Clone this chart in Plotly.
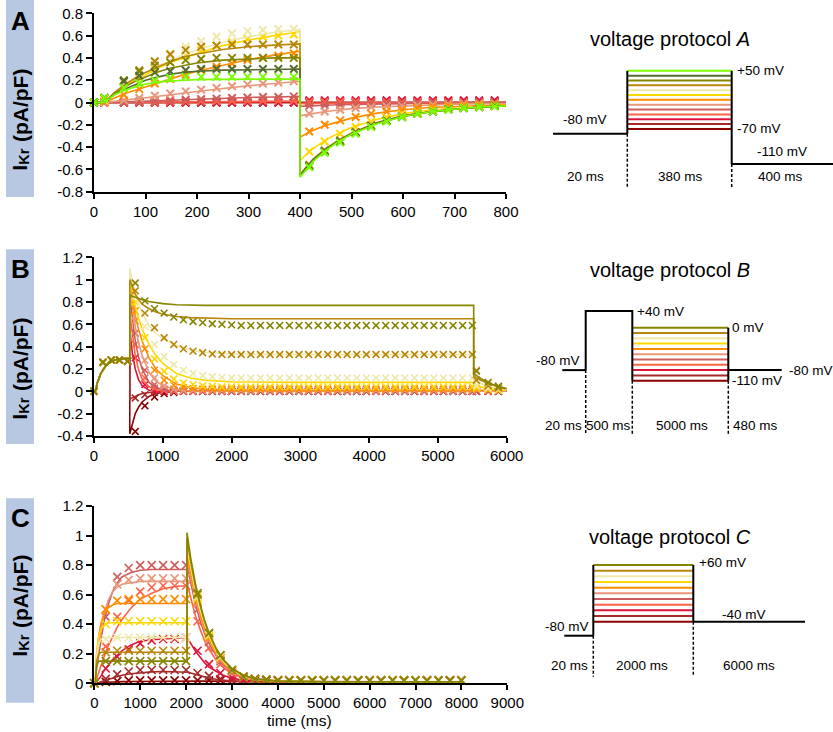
import plotly.graph_objects as go

W, H = 833, 732
FONT = "Liberation Sans, Arial, Helvetica, sans-serif"


def px(x):
    return x / W


def py(y):
    return 1 - y / H


# ---------------- palette (highest step voltage first) ----------------
PALETTE = ["#7cfc00", "#556b2f", "#858500", "#b8860b", "#eee8aa", "#ffd700",
           "#ff8c00", "#e9967a", "#cd5c5c", "#ff6347", "#dc143c", "#a52a2a", "#8b0000"]

# ---------------- Panel A : protocol A ----------------
A_VOLTS = ["+50", "+40", "+30", "+20", "+10", "0", "-10", "-20", "-30", "-40", "-50", "-60", "-70"]
A_FIT_T = [0, 20, 40, 60, 80, 100, 125, 150, 175, 200, 250, 300, 350, 400,
           400, 410, 425, 450, 475, 500, 550, 600, 650, 700, 750, 800]
A_FIT_P50 = [0, 0, 0.07, 0.11, 0.14, 0.165, 0.185, 0.195, 0.2, 0.205, 0.21, 0.21, 0.21, 0.21,
             -0.67, -0.61, -0.53, -0.43, -0.35, -0.285, -0.19, -0.125, -0.085, -0.06, -0.04, -0.03]
A_FIT_P40 = [0, 0, 0.07, 0.12, 0.16, 0.2, 0.23, 0.255, 0.27, 0.28, 0.29, 0.295, 0.3, 0.3,
             -0.66, -0.6, -0.52, -0.42, -0.345, -0.28, -0.185, -0.125, -0.085, -0.06, -0.04, -0.03]
A_FIT_P30 = [0, 0, 0.08, 0.14, 0.19, 0.23, 0.275, 0.31, 0.335, 0.355, 0.38, 0.39, 0.4, 0.4,
             -0.655, -0.595, -0.515, -0.42, -0.34, -0.28, -0.185, -0.12, -0.085, -0.06, -0.04, -0.03]
A_FIT_P20 = [0, 0, 0.09, 0.16, 0.22, 0.27, 0.32, 0.37, 0.41, 0.435, 0.475, 0.5, 0.515, 0.525,
             -0.65, -0.59, -0.51, -0.415, -0.34, -0.275, -0.18, -0.12, -0.085, -0.06, -0.04, -0.03]
A_FIT_P10 = [0, 0, 0.09, 0.16, 0.22, 0.27, 0.33, 0.38, 0.43, 0.47, 0.54, 0.59, 0.63, 0.655,
             -0.645, -0.585, -0.51, -0.41, -0.335, -0.27, -0.18, -0.12, -0.08, -0.055, -0.04, -0.03]
A_FIT_0 = [0, 0, 0.08, 0.15, 0.2, 0.25, 0.31, 0.36, 0.4, 0.44, 0.51, 0.56, 0.6, 0.635,
           -0.52, -0.475, -0.415, -0.335, -0.275, -0.225, -0.15, -0.1, -0.07, -0.05, -0.035, -0.025]
A_FIT_M10 = [0, 0, 0.04, 0.08, 0.11, 0.14, 0.18, 0.215, 0.25, 0.28, 0.33, 0.385, 0.425, 0.46,
             -0.31, -0.285, -0.25, -0.205, -0.17, -0.14, -0.095, -0.065, -0.045, -0.035, -0.025, -0.02]
A_FIT_M20 = [0, 0, 0.01, 0.02, 0.03, 0.04, 0.055, 0.07, 0.085, 0.1, 0.125, 0.15, 0.17, 0.19,
             -0.12, -0.11, -0.1, -0.08, -0.065, -0.055, -0.04, -0.03, -0.02, -0.015, -0.01, -0.01]
A_FIT_M30 = [0, 0, 0, 0.005, 0.008, 0.01, 0.015, 0.02, 0.025, 0.03, 0.04, 0.045, 0.05, 0.055,
             -0.035, -0.032, -0.03, -0.025, -0.02, -0.017, -0.012, -0.01, -0.007, -0.005, -0.004, -0.003]
A_FIT_M40 = [0, 0, 0, 0, 0.002, 0.003, 0.004, 0.005, 0.006, 0.007, 0.009, 0.01, 0.012, 0.013,
             -0.01, -0.009, -0.008, -0.007, -0.006, -0.005, -0.004, -0.003, -0.002, -0.002, -0.001, -0.001]
A_FIT_M50 = [0, 0, 0, 0, 0, 0.001, 0.001, 0.002, 0.002, 0.002, 0.003, 0.003, 0.003, 0.004,
             -0.003, -0.003, -0.002, -0.002, -0.002, -0.001, -0.001, -0.001, -0.001, 0, 0, 0]
A_FIT_M60 = [0, 0, -0.002, -0.003, -0.003, -0.003, -0.003, -0.003, -0.003, -0.003, -0.003, -0.003, -0.003, -0.003,
             -0.001, -0.001, -0.001, -0.001, 0, 0, 0, 0, 0, 0, 0, 0]
A_FIT_M70 = [0, 0, -0.005, -0.006, -0.006, -0.006, -0.006, -0.006, -0.006, -0.006, -0.006, -0.006, -0.006, -0.006,
             0, 0, 0, 0, 0, 0, 0, 0, 0, 0, 0, 0]
A_ZERO_T = [0, 800]
A_ZERO_I = [0, 0]

A_DAT_T = [0, 20, 58, 88, 118, 148, 178, 208, 238, 268, 298, 328, 358, 388,
           418, 448, 478, 508, 538, 568, 598, 628, 658, 688, 718, 748, 778]
A_DAT_P50 = [0, 0.04, 0.13, 0.17, 0.2, 0.22, 0.23, 0.23, 0.23, 0.23, 0.23, 0.23, 0.23, 0.23,
             -0.58, -0.45, -0.36, -0.28, -0.22, -0.17, -0.13, -0.1, -0.08, -0.065, -0.05, -0.04, -0.035]
A_DAT_P40 = [0, 0.04, 0.19, 0.24, 0.27, 0.28, 0.29, 0.3, 0.3, 0.3, 0.3, 0.3, 0.3, 0.3,
             -0.57, -0.44, -0.35, -0.27, -0.21, -0.165, -0.13, -0.1, -0.08, -0.06, -0.05, -0.04, -0.03]
A_DAT_P30 = [0, 0.04, 0.2, 0.28, 0.33, 0.36, 0.38, 0.39, 0.4, 0.4, 0.4, 0.4, 0.4, 0.4,
             -0.57, -0.44, -0.35, -0.27, -0.21, -0.165, -0.13, -0.1, -0.08, -0.06, -0.05, -0.04, -0.03]
A_DAT_P20 = [0, 0.04, 0.19, 0.29, 0.37, 0.43, 0.47, 0.5, 0.51, 0.52, 0.52, 0.52, 0.52, 0.52,
             -0.56, -0.43, -0.34, -0.265, -0.205, -0.16, -0.125, -0.1, -0.08, -0.06, -0.05, -0.04, -0.03]
A_DAT_P10 = [0, 0.03, 0.17, 0.27, 0.36, 0.44, 0.5, 0.55, 0.59, 0.62, 0.64, 0.65, 0.66, 0.66,
             -0.56, -0.43, -0.34, -0.265, -0.205, -0.16, -0.125, -0.1, -0.08, -0.06, -0.05, -0.04, -0.03]
A_DAT_0 = [0, 0.02, 0.13, 0.22, 0.3, 0.36, 0.42, 0.47, 0.51, 0.54, 0.57, 0.59, 0.6, 0.61,
           -0.44, -0.35, -0.28, -0.22, -0.17, -0.135, -0.105, -0.085, -0.065, -0.05, -0.04, -0.03, -0.025]
A_DAT_M10 = [0, 0.01, 0.07, 0.12, 0.17, 0.21, 0.25, 0.29, 0.32, 0.35, 0.38, 0.4, 0.42, 0.44,
             -0.26, -0.2, -0.16, -0.13, -0.1, -0.08, -0.065, -0.05, -0.04, -0.03, -0.025, -0.02, -0.015]
A_DAT_M20 = [0, 0, 0.02, 0.04, 0.06, 0.08, 0.1, 0.115, 0.13, 0.145, 0.16, 0.17, 0.18, 0.19,
             -0.1, -0.08, -0.065, -0.05, -0.04, -0.035, -0.03, -0.025, -0.02, -0.015, -0.01, -0.01, -0.01]
A_DAT_M30 = [0, 0, 0.005, 0.01, 0.015, 0.02, 0.025, 0.03, 0.035, 0.04, 0.045, 0.05, 0.05, 0.055,
             -0.03, -0.025, -0.02, -0.015, -0.01, -0.01, -0.008, -0.006, -0.005, -0.004, -0.003, -0.002, -0.002]
A_DAT_M40 = [0, 0, 0, 0.005, 0.005, 0.008, 0.01, 0.01, 0.012, 0.013, 0.014, 0.015, 0.015, 0.016,
             0.005, 0.005, 0.004, 0.004, 0.003, 0.003, 0.002, 0.002, 0.002, 0.001, 0.001, 0.001, 0.001]
A_DAT_M50 = [0, 0, 0, 0, 0, 0, 0, 0, 0, 0, 0, 0, 0, 0,
             0.02, 0.02, 0.02, 0.02, 0.02, 0.02, 0.02, 0.02, 0.02, 0.02, 0.02, 0.02, 0.02]
A_DAT_M60 = [0, 0, 0, 0, 0, 0, 0, 0, 0, 0, 0, 0, 0, 0,
             0.01, 0.01, 0.01, 0.01, 0.01, 0.01, 0.01, 0.01, 0.01, 0.01, 0.01, 0.01, 0.01]
A_DAT_M70 = [0, 0, 0, 0, 0, 0, 0, 0, 0, 0, 0, 0, 0, 0,
             0, 0, 0, 0, 0, 0, 0, 0, 0, 0, 0, 0, 0]

# ---------------- Panel B : protocol B ----------------
B_VOLTS = ["0", "-10", "-20", "-30", "-40", "-50", "-60", "-70", "-80", "-90", "-100"]
B_FIT_T = [0, 20, 50, 100, 150, 200, 250, 300, 400, 520,
           520, 560, 600, 650, 700, 800, 900, 1000, 1200, 1400, 1600, 2000, 2500, 3000, 4000, 5520,
           5520, 5560, 5620, 5700, 5800, 5900, 6000]
B_FIT_PRE = [0, 0, 0.08, 0.16, 0.21, 0.245, 0.265, 0.28, 0.29, 0.295]
B_FIT_STEP_0 = [0.86, 0.85, 0.84, 0.83, 0.82, 0.805, 0.795, 0.785, 0.775, 0.772, 0.77, 0.77, 0.77, 0.77, 0.77, 0.77]
B_FIT_STEP_M10 = [1.0, 0.93, 0.87, 0.82, 0.78, 0.74, 0.71, 0.69, 0.67, 0.66, 0.655, 0.65, 0.65, 0.65, 0.65, 0.65]
B_FIT_STEP_M20 = [1.1, 0.97, 0.87, 0.78, 0.7, 0.59, 0.52, 0.47, 0.41, 0.37, 0.35, 0.335, 0.33, 0.33, 0.33, 0.33]
B_FIT_STEP_M30 = [1.02, 0.88, 0.76, 0.65, 0.56, 0.42, 0.32, 0.25, 0.16, 0.12, 0.1, 0.085, 0.08, 0.08, 0.08, 0.08]
B_FIT_STEP_M40 = [1.0, 0.82, 0.68, 0.55, 0.45, 0.3, 0.2, 0.14, 0.065, 0.035, 0.02, 0.012, 0.01, 0.01, 0.01, 0.01]
B_FIT_STEP_M50 = [0.95, 0.74, 0.58, 0.43, 0.32, 0.17, 0.09, 0.05, 0.015, 0.005, 0, 0, 0, 0, 0, 0]
B_FIT_STEP_M60 = [0.85, 0.62, 0.45, 0.3, 0.2, 0.08, 0.035, 0.015, 0, 0, 0, 0, 0, 0, 0, 0]
B_FIT_STEP_M70 = [0.7, 0.48, 0.32, 0.19, 0.11, 0.04, 0.015, 0.005, 0, 0, 0, 0, 0, 0, 0, 0]
B_FIT_STEP_M80 = [0.55, 0.33, 0.2, 0.1, 0.05, 0.01, 0, 0, 0, 0, 0, 0, 0, 0, 0, 0]
B_FIT_STEP_M90 = [-0.07, -0.06, -0.045, -0.03, -0.02, -0.01, -0.005, 0, 0, 0, 0, 0, 0, 0, 0, 0]
B_FIT_STEP_M100 = [-0.38, -0.28, -0.2, -0.14, -0.095, -0.045, -0.02, -0.01, 0, 0, 0, 0, 0, 0, 0, 0]
B_FIT_TAIL_0 = [0.16, 0.14, 0.115, 0.09, 0.06, 0.04, 0.025]
B_FIT_TAIL_M10 = [0.14, 0.12, 0.1, 0.08, 0.055, 0.035, 0.02]
B_FIT_TAIL_M20 = [0.1, 0.085, 0.07, 0.055, 0.04, 0.025, 0.015]
B_FIT_TAIL_M30 = [0.05, 0.045, 0.04, 0.03, 0.02, 0.015, 0.01]
B_FIT_TAIL_M40 = [0.01, 0.01, 0.01, 0.01, 0.01, 0.01, 0.01]
B_FIT_TAIL_LOW = [0, 0, 0, 0, 0, 0, 0]

B_DAT_T = [0, 130, 250, 370, 490,
           600, 740, 880, 1020, 1160, 1300, 1440, 1580, 1720, 1860, 2000, 2140, 2280, 2420, 2560, 2700,
           2840, 2980, 3120, 3260, 3400, 3540, 3680, 3820, 3960, 4100, 4240, 4380, 4520, 4660, 4800,
           4940, 5080, 5220, 5360, 5500,
           5560, 5730, 5880]
B_DAT_PRE = [0, 0.26, 0.28, 0.28, 0.27]
B_DAT_STEP_0 = [0.97, 0.81, 0.74, 0.7, 0.665, 0.64, 0.625, 0.615, 0.605, 0.6, 0.595, 0.59,
                0.59, 0.59, 0.59, 0.59, 0.59, 0.59, 0.59, 0.59, 0.59, 0.59, 0.59, 0.59,
                0.59, 0.59, 0.59, 0.59, 0.59, 0.59, 0.59, 0.59, 0.59, 0.59, 0.59, 0.59]
B_DAT_STEP_M10 = [0.9, 0.7, 0.57, 0.48, 0.42, 0.38, 0.36, 0.345, 0.335, 0.33, 0.33, 0.33,
                  0.33, 0.33, 0.33, 0.33, 0.33, 0.33, 0.33, 0.33, 0.33, 0.33, 0.33, 0.33,
                  0.33, 0.33, 0.33, 0.33, 0.33, 0.33, 0.33, 0.33, 0.33, 0.33, 0.33, 0.33]
B_DAT_STEP_M20 = [0.85, 0.58, 0.42, 0.31, 0.24, 0.19, 0.16, 0.14, 0.13, 0.125, 0.12, 0.12,
                  0.12, 0.12, 0.12, 0.12, 0.12, 0.12, 0.12, 0.12, 0.12, 0.12, 0.12, 0.12,
                  0.12, 0.12, 0.12, 0.12, 0.12, 0.12, 0.12, 0.12, 0.12, 0.12, 0.12, 0.12]
B_DAT_STEP_M30 = [0.8, 0.48, 0.29, 0.18, 0.11, 0.075, 0.06, 0.05, 0.045, 0.04, 0.04, 0.04,
                  0.04, 0.04, 0.04, 0.04, 0.04, 0.04, 0.04, 0.04, 0.04, 0.04, 0.04, 0.04,
                  0.04, 0.04, 0.04, 0.04, 0.04, 0.04, 0.04, 0.04, 0.04, 0.04, 0.04, 0.04]
B_DAT_STEP_M40 = [0.72, 0.38, 0.19, 0.1, 0.055, 0.035, 0.025, 0.02, 0.02, 0.02, 0.02, 0.02,
                  0.02, 0.02, 0.02, 0.02, 0.02, 0.02, 0.02, 0.02, 0.02, 0.02, 0.02, 0.02,
                  0.02, 0.02, 0.02, 0.02, 0.02, 0.02, 0.02, 0.02, 0.02, 0.02, 0.02, 0.02]
B_DAT_STEP_M50 = [0.63, 0.28, 0.12, 0.05, 0.02, 0.01, 0.01, 0.01, 0.01, 0.01, 0.01, 0.01,
                  0.01, 0.01, 0.01, 0.01, 0.01, 0.01, 0.01, 0.01, 0.01, 0.01, 0.01, 0.01,
                  0.01, 0.01, 0.01, 0.01, 0.01, 0.01, 0.01, 0.01, 0.01, 0.01, 0.01, 0.01]
B_DAT_STEP_M60 = [0.52, 0.19, 0.06, 0.02, 0.01, 0.005, 0, 0, 0, 0, 0, 0,
                  0, 0, 0, 0, 0, 0, 0, 0, 0, 0, 0, 0,
                  0, 0, 0, 0, 0, 0, 0, 0, 0, 0, 0, 0]
B_DAT_STEP_M70 = [0.42, 0.12, 0.03, 0.01, 0, 0, 0, 0, 0, 0, 0, 0,
                  0, 0, 0, 0, 0, 0, 0, 0, 0, 0, 0, 0,
                  0, 0, 0, 0, 0, 0, 0, 0, 0, 0, 0, 0]
B_DAT_STEP_M80 = [0.3, 0.06, 0.01, 0, 0, 0, 0, 0, 0, 0, 0, 0,
                  0, 0, 0, 0, 0, 0, 0, 0, 0, 0, 0, 0,
                  0, 0, 0, 0, 0, 0, 0, 0, 0, 0, 0, 0]
B_DAT_STEP_M90 = [-0.06, -0.03, -0.01, 0, 0, 0, 0, 0, 0, 0, 0, 0,
                  0, 0, 0, 0, 0, 0, 0, 0, 0, 0, 0, 0,
                  0, 0, 0, 0, 0, 0, 0, 0, 0, 0, 0, 0]
B_DAT_STEP_M100 = [-0.36, -0.13, -0.05, -0.02, -0.01, 0, 0, 0, 0, 0, 0, 0,
                   0, 0, 0, 0, 0, 0, 0, 0, 0, 0, 0, 0,
                   0, 0, 0, 0, 0, 0, 0, 0, 0, 0, 0, 0]
B_DAT_TAIL_0 = [0.18, 0.08, 0.045]
B_DAT_TAIL_M10 = [0.1, 0.05, 0.03]
B_DAT_TAIL_M20 = [0.05, 0.03, 0.02]
B_DAT_TAIL_M30 = [0.03, 0.02, 0.01]
B_DAT_TAIL_M40 = [0.02, 0.01, 0.01]
B_DAT_TAIL_M50 = [0.19, 0.075, 0.045]
B_DAT_TAIL_LOW = [0, 0, 0]

# ---------------- Panel C : protocol C ----------------
C_VOLTS = ["+60", "+50", "+40", "+30", "+20", "+10", "0", "-10", "-20", "-30", "-40"]
C_FIT_T = [0, 20, 50, 100, 150, 200, 300, 400, 500, 600, 800, 1000, 1250, 1500, 1750, 2020,
           2020, 2060, 2100, 2200, 2300, 2400, 2500, 2650, 2800, 3000, 3250, 3500, 4000, 5000, 6500, 8020]
C_FIT_P60 = [0, 0, 0.12, 0.15, 0.15, 0.15, 0.15, 0.15, 0.15, 0.15, 0.15, 0.15, 0.15, 0.15, 0.15, 0.15,
             1.02, 0.93, 0.85, 0.68, 0.54, 0.43, 0.34, 0.24, 0.165, 0.1, 0.055, 0.03, 0.015, 0.01, 0.01, 0.01]
C_FIT_P50 = [0, 0, 0.15, 0.2, 0.21, 0.21, 0.21, 0.21, 0.21, 0.21, 0.21, 0.21, 0.21, 0.21, 0.21, 0.21,
             0.98, 0.9, 0.82, 0.66, 0.53, 0.42, 0.335, 0.235, 0.16, 0.1, 0.055, 0.03, 0.015, 0.01, 0.01, 0.01]
C_FIT_P40 = [0, 0, 0.18, 0.27, 0.3, 0.31, 0.31, 0.31, 0.31, 0.31, 0.31, 0.31, 0.31, 0.31, 0.31, 0.31,
             0.95, 0.87, 0.8, 0.64, 0.51, 0.41, 0.325, 0.23, 0.155, 0.095, 0.05, 0.03, 0.015, 0.01, 0.01, 0.01]
C_FIT_P30 = [0, 0, 0.2, 0.32, 0.37, 0.39, 0.41, 0.41, 0.41, 0.41, 0.41, 0.41, 0.41, 0.41, 0.41, 0.41,
             0.92, 0.85, 0.78, 0.62, 0.5, 0.4, 0.315, 0.22, 0.15, 0.09, 0.05, 0.03, 0.015, 0.01, 0.01, 0.01]
C_FIT_P20 = [0, 0, 0.2, 0.33, 0.41, 0.46, 0.51, 0.53, 0.54, 0.54, 0.54, 0.54, 0.54, 0.54, 0.54, 0.54,
             0.88, 0.81, 0.75, 0.6, 0.48, 0.38, 0.3, 0.21, 0.145, 0.085, 0.048, 0.028, 0.015, 0.01, 0.01, 0.01]
C_FIT_P10 = [0, 0, 0.15, 0.28, 0.38, 0.45, 0.56, 0.62, 0.65, 0.67, 0.68, 0.69, 0.69, 0.69, 0.69, 0.69,
             0.84, 0.78, 0.72, 0.57, 0.46, 0.36, 0.29, 0.2, 0.14, 0.08, 0.045, 0.027, 0.014, 0.01, 0.01, 0.01]
C_FIT_0 = [0, 0, 0.1, 0.2, 0.3, 0.4, 0.53, 0.62, 0.68, 0.72, 0.75, 0.765, 0.77, 0.77, 0.77, 0.77,
           0.8, 0.74, 0.68, 0.54, 0.43, 0.34, 0.27, 0.19, 0.13, 0.075, 0.042, 0.025, 0.013, 0.01, 0.01, 0.01]
C_FIT_M10 = [0, 0, 0.03, 0.08, 0.13, 0.17, 0.25, 0.32, 0.38, 0.43, 0.51, 0.57, 0.61, 0.64, 0.655, 0.66,
             0.68, 0.63, 0.58, 0.46, 0.37, 0.29, 0.23, 0.16, 0.11, 0.065, 0.036, 0.022, 0.012, 0.01, 0.01, 0.01]
C_FIT_M20 = [0, 0, 0.01, 0.03, 0.05, 0.08, 0.12, 0.16, 0.19, 0.22, 0.26, 0.285, 0.295, 0.3, 0.305, 0.31,
             0.31, 0.29, 0.27, 0.22, 0.18, 0.14, 0.11, 0.08, 0.055, 0.035, 0.02, 0.014, 0.01, 0.01, 0.01, 0.01]
C_FIT_M30 = [0, 0, 0, 0.005, 0.01, 0.015, 0.025, 0.035, 0.045, 0.055, 0.065, 0.072, 0.077, 0.08, 0.08, 0.08,
             0.08, 0.075, 0.07, 0.06, 0.05, 0.04, 0.035, 0.027, 0.02, 0.015, 0.012, 0.01, 0.01, 0.01, 0.01, 0.01]
C_FIT_M40 = [0, 0, 0, 0.002, 0.004, 0.005, 0.007, 0.009, 0.01, 0.011, 0.012, 0.013, 0.014, 0.014, 0.015, 0.015,
             0.015, 0.015, 0.015, 0.015, 0.015, 0.015, 0.015, 0.014, 0.014, 0.013, 0.012, 0.011, 0.01, 0.01, 0.01, 0.01]

C_DAT_T = [0, 250, 500, 750, 1000, 1250, 1500, 1750, 2000,
           2250, 2500, 2750, 3000, 3250, 3500, 3750, 4000, 4250, 4500, 4750, 5000,
           5250, 5500, 5750, 6000, 6250, 6500, 6750, 7000, 7250, 7500, 7750, 8000]
C_DAT_TAIL_REST = [0.02, 0.02, 0.02, 0.02, 0.02, 0.02, 0.02, 0.02, 0.02,
                   0.02, 0.02, 0.02, 0.02, 0.02, 0.02, 0.02, 0.02]
C_DAT_P60 = [0, 0.15, 0.15, 0.15, 0.15, 0.15, 0.15, 0.15, 0.15, 0.61, 0.34, 0.19, 0.09, 0.045, 0.03, 0.025]
C_DAT_P50 = [0, 0.21, 0.22, 0.22, 0.22, 0.22, 0.22, 0.22, 0.22, 0.6, 0.34, 0.19, 0.09, 0.045, 0.03, 0.025]
C_DAT_P40 = [0, 0.3, 0.31, 0.31, 0.31, 0.31, 0.31, 0.31, 0.31, 0.59, 0.33, 0.18, 0.09, 0.045, 0.03, 0.025]
C_DAT_P30 = [0, 0.4, 0.42, 0.42, 0.42, 0.42, 0.42, 0.42, 0.42, 0.58, 0.32, 0.18, 0.09, 0.045, 0.03, 0.025]
C_DAT_P20 = [0, 0.5, 0.56, 0.57, 0.57, 0.57, 0.57, 0.57, 0.57, 0.56, 0.31, 0.17, 0.085, 0.045, 0.03, 0.025]
C_DAT_P10 = [0, 0.5, 0.67, 0.7, 0.71, 0.71, 0.71, 0.71, 0.71, 0.54, 0.3, 0.16, 0.08, 0.045, 0.03, 0.025]
C_DAT_0 = [0, 0.45, 0.72, 0.78, 0.8, 0.8, 0.8, 0.8, 0.8, 0.5, 0.28, 0.15, 0.075, 0.04, 0.03, 0.025]
C_DAT_M10 = [0, 0.25, 0.45, 0.56, 0.62, 0.65, 0.66, 0.66, 0.66, 0.42, 0.24, 0.13, 0.07, 0.04, 0.03, 0.025]
C_DAT_M20 = [0, 0.1, 0.18, 0.23, 0.27, 0.29, 0.3, 0.3, 0.31, 0.22, 0.13, 0.07, 0.04, 0.03, 0.025, 0.02]
C_DAT_M30 = [0, 0.03, 0.06, 0.08, 0.09, 0.09, 0.09, 0.09, 0.09, 0.07, 0.05, 0.03, 0.02, 0.02, 0.02, 0.02]
C_DAT_M40 = [0, 0.01, 0.015, 0.02, 0.02, 0.02, 0.02, 0.02, 0.02, 0.02, 0.02, 0.02, 0.02, 0.02, 0.02, 0.02]

# ---------------- voltage protocol diagrams ----------------
PROTO_A_STEPS_MV = [50, 40, 30, 20, 10, 0, -10, -20, -30, -40, -50, -60, -70]
PROTO_A_HOLD_MV = -80
PROTO_A_TAIL_MV = -110
PROTO_A_TAIL_DRAWN = -142.5      # drawn off-scale, as in the original sketch
PROTO_A_EDGES = [0, 74.3, 178.7, 280]
PROTO_A_DUR = ["20 ms", "380 ms", "400 ms"]

PROTO_B_STEPS_MV = [0, -10, -20, -30, -40, -50, -60, -70, -80, -90, -100]
PROTO_B_HOLD_MV = -80
PROTO_B_PRE_MV = 40
PROTO_B_PRE_DRAWN = 31.5
PROTO_B_EDGES = [2.3, 25.7, 72.3, 168.3, 221.7]
PROTO_B_DUR = ["20 ms", "500 ms", "5000 ms", "480 ms"]

PROTO_C_STEPS_MV = [60, 50, 40, 30, 20, 10, 0, -10, -20, -30, -40]
PROTO_C_HOLD_MV = -80
PROTO_C_HOLD_DRAWN = -64.7
PROTO_C_TAIL_MV = -40
PROTO_C_EDGES = [4.3, 33.3, 133.3, 245]
PROTO_C_DUR = ["20 ms", "2000 ms", "6000 ms"]

TICK_A_Y = [-0.8, -0.6, -0.4, -0.2, 0, 0.2, 0.4, 0.6, 0.8]
TICK_A_YT = ["-0.8", "-0.6", "-0.4", "-0.2", "0", "0.2", "0.4", "0.6", "0.8"]
TICK_A_X = [0, 100, 200, 300, 400, 500, 600, 700, 800]
TICK_B_Y = [-0.4, -0.2, 0, 0.2, 0.4, 0.6, 0.8, 1, 1.2]
TICK_B_YT = ["-0.4", "-0.2", "0", "0.2", "0.4", "0.6", "0.8", "1", "1.2"]
TICK_B_X = [0, 1000, 2000, 3000, 4000, 5000, 6000]
TICK_C_Y = [0, 0.2, 0.4, 0.6, 0.8, 1, 1.2]
TICK_C_YT = ["0", "0.2", "0.4", "0.6", "0.8", "1", "1.2"]
TICK_C_X = [0, 1000, 2000, 3000, 4000, 5000, 6000, 7000, 8000, 9000]

# ---------------- assemble ----------------
fig = go.Figure()


def add_series(xf, yf, xd, yd, color, ax, msize, mwidth):
    xa, ya = ax
    fig.add_trace(go.Scatter(x=xf, y=yf, mode="lines", line=dict(color=color, width=1.6),
                             xaxis=xa, yaxis=ya, cliponaxis=False, showlegend=False, hoverinfo="skip"))
    fig.add_trace(go.Scatter(x=xd, y=yd, mode="markers",
                             marker=dict(symbol="x-thin", size=msize, line=dict(color=color, width=mwidth)),
                             xaxis=xa, yaxis=ya, cliponaxis=False, showlegend=False, hoverinfo="skip"))


A_FITS = [A_FIT_P50, A_FIT_P40, A_FIT_P30, A_FIT_P20, A_FIT_P10, A_FIT_0, A_FIT_M10,
          A_FIT_M20, A_FIT_M30, A_FIT_M40, A_FIT_M50, A_FIT_M60, A_FIT_M70]
A_DATS = [A_DAT_P50, A_DAT_P40, A_DAT_P30, A_DAT_P20, A_DAT_P10, A_DAT_0, A_DAT_M10,
          A_DAT_M20, A_DAT_M30, A_DAT_M40, A_DAT_M50, A_DAT_M60, A_DAT_M70]
fig.add_trace(go.Scatter(x=A_ZERO_T, y=A_ZERO_I, mode="lines", line=dict(color="#9be36a", width=1.6),
                         xaxis="x", yaxis="y", showlegend=False, hoverinfo="skip"))
for i in reversed(range(len(A_VOLTS))):
    add_series(A_FIT_T, A_FITS[i], A_DAT_T, A_DATS[i], PALETTE[i], ("x", "y"), 7.5, 2)

B_STEPS = [B_FIT_STEP_0, B_FIT_STEP_M10, B_FIT_STEP_M20, B_FIT_STEP_M30, B_FIT_STEP_M40, B_FIT_STEP_M50,
           B_FIT_STEP_M60, B_FIT_STEP_M70, B_FIT_STEP_M80, B_FIT_STEP_M90, B_FIT_STEP_M100]
B_TAILS = [B_FIT_TAIL_0, B_FIT_TAIL_M10, B_FIT_TAIL_M20, B_FIT_TAIL_M30, B_FIT_TAIL_M40,
           B_FIT_TAIL_LOW, B_FIT_TAIL_LOW, B_FIT_TAIL_LOW, B_FIT_TAIL_LOW, B_FIT_TAIL_LOW, B_FIT_TAIL_LOW]
B_DSTEPS = [B_DAT_STEP_0, B_DAT_STEP_M10, B_DAT_STEP_M20, B_DAT_STEP_M30, B_DAT_STEP_M40, B_DAT_STEP_M50,
            B_DAT_STEP_M60, B_DAT_STEP_M70, B_DAT_STEP_M80, B_DAT_STEP_M90, B_DAT_STEP_M100]
B_DTAILS = [B_DAT_TAIL_0, B_DAT_TAIL_M10, B_DAT_TAIL_M20, B_DAT_TAIL_M30, B_DAT_TAIL_M40, B_DAT_TAIL_M50,
            B_DAT_TAIL_LOW, B_DAT_TAIL_LOW, B_DAT_TAIL_LOW, B_DAT_TAIL_LOW, B_DAT_TAIL_LOW]
for i in reversed(range(len(B_VOLTS))):
    add_series(B_FIT_T, B_FIT_PRE + B_STEPS[i] + B_TAILS[i],
               B_DAT_T, B_DAT_PRE + B_DSTEPS[i] + B_DTAILS[i], PALETTE[i + 2], ("x2", "y2"), 6.8, 1.6)

C_FITS = [C_FIT_P60, C_FIT_P50, C_FIT_P40, C_FIT_P30, C_FIT_P20, C_FIT_P10, C_FIT_0,
          C_FIT_M10, C_FIT_M20, C_FIT_M30, C_FIT_M40]
C_DATS = [C_DAT_P60, C_DAT_P50, C_DAT_P40, C_DAT_P30, C_DAT_P20, C_DAT_P10, C_DAT_0,
          C_DAT_M10, C_DAT_M20, C_DAT_M30, C_DAT_M40]
for i in reversed(range(len(C_VOLTS))):
    add_series(C_FIT_T, C_FITS[i], C_DAT_T, C_DATS[i] + C_DAT_TAIL_REST, PALETTE[i + 2], ("x3", "y3"), 8, 1.6)


# ---- protocol diagrams ----
def seg(x, y, ax, color="black", width=2, dash=None):
    fig.add_trace(go.Scatter(x=x, y=y, mode="lines", line=dict(color=color, width=width, dash=dash),
                             xaxis=ax[0], yaxis=ax[1], showlegend=False, hoverinfo="skip", cliponaxis=False))


DASH = "3px,2px"
# A
axA = ("x4", "y4")
eA = PROTO_A_EDGES
for v, c in zip(reversed(PROTO_A_STEPS_MV), reversed(PALETTE)):
    seg([eA[1], eA[2]], [v, v], axA, color=c, width=2)
seg([eA[0], eA[1]], [PROTO_A_HOLD_MV, PROTO_A_HOLD_MV], axA)
seg([eA[1], eA[1]], [PROTO_A_HOLD_MV, max(PROTO_A_STEPS_MV)], axA)
seg([eA[2], eA[2]], [max(PROTO_A_STEPS_MV), PROTO_A_TAIL_DRAWN], axA)
seg([eA[2], eA[3]], [PROTO_A_TAIL_DRAWN, PROTO_A_TAIL_DRAWN], axA)
seg([eA[1], eA[1]], [PROTO_A_HOLD_MV, -192.5], axA, width=1.5, dash=DASH)
seg([eA[2], eA[2]], [PROTO_A_TAIL_DRAWN, -192.5], axA, width=1.5, dash=DASH)

# B
axB = ("x5", "y5")
eB = PROTO_B_EDGES
for v, c in zip(reversed(PROTO_B_STEPS_MV), reversed(PALETTE[2:])):
    seg([eB[2], eB[3]], [v, v], axB, color=c, width=2)
seg([eB[0], eB[1]], [PROTO_B_HOLD_MV, PROTO_B_HOLD_MV], axB)
seg([eB[1], eB[1], eB[2], eB[2]], [PROTO_B_HOLD_MV, PROTO_B_PRE_DRAWN, PROTO_B_PRE_DRAWN,
                                   min(PROTO_B_STEPS_MV)], axB)
seg([eB[3], eB[3]], [max(PROTO_B_STEPS_MV), min(PROTO_B_STEPS_MV)], axB)
seg([eB[3], eB[4]], [PROTO_B_HOLD_MV, PROTO_B_HOLD_MV], axB)
seg([eB[1], eB[1]], [PROTO_B_HOLD_MV, -202.5], axB, width=1.5, dash=DASH)
seg([eB[2], eB[2]], [min(PROTO_B_STEPS_MV), -202.5], axB, width=1.5, dash=DASH)
seg([eB[3], eB[3]], [min(PROTO_B_STEPS_MV), -202.5], axB, width=1.5, dash=DASH)

# C
axC = ("x6", "y6")
eC = PROTO_C_EDGES
for v, c in zip(reversed(PROTO_C_STEPS_MV), reversed(PALETTE[2:])):
    seg([eC[1], eC[2]], [v, v], axC, color=c, width=2)
seg([eC[0], eC[1]], [PROTO_C_HOLD_DRAWN, PROTO_C_HOLD_DRAWN], axC)
seg([eC[1], eC[1]], [PROTO_C_HOLD_DRAWN, max(PROTO_C_STEPS_MV)], axC)
seg([eC[2], eC[2]], [max(PROTO_C_STEPS_MV), PROTO_C_TAIL_MV], axC)
seg([eC[2], eC[3]], [PROTO_C_TAIL_MV, PROTO_C_TAIL_MV], axC)
seg([eC[1], eC[1]], [PROTO_C_HOLD_DRAWN, -137], axC, width=1.5, dash=DASH)
seg([eC[2], eC[2]], [PROTO_C_TAIL_MV, -137], axC, width=1.5, dash=DASH)

# ---------------- layout ----------------
AX = dict(showline=True, linecolor="black", linewidth=2, ticks="outside", ticklen=5, tickwidth=1.5,
          tickcolor="black", showgrid=False, zeroline=False, tickfont=dict(size=15, color="black", family=FONT),
          fixedrange=True, automargin=False, title=None)
HIDDEN = dict(visible=False, fixedrange=True, automargin=False)

layout = dict(
    width=W, height=H, autosize=False,
    margin=dict(l=0, r=0, t=0, b=0, pad=0, autoexpand=False),
    paper_bgcolor="white", plot_bgcolor="rgba(0,0,0,0)",
    font=dict(family=FONT, color="black"), showlegend=False,
    xaxis=dict(AX, domain=[px(94), px(506)], range=[0, 800], anchor="y", tickvals=TICK_A_X),
    yaxis=dict(AX, domain=[py(191.7), py(13.3)], range=[-0.8, 0.8], anchor="x",
               tickvals=TICK_A_Y, ticktext=TICK_A_YT, ticklen=6),
    xaxis2=dict(AX, domain=[px(94), px(506.7)], range=[0, 6000], anchor="y2", tickvals=TICK_B_X),
    yaxis2=dict(AX, domain=[py(436), py(257.3)], range=[-0.4, 1.2], anchor="x2",
                tickvals=TICK_B_Y, ticktext=TICK_B_YT, ticklen=6),
    xaxis3=dict(AX, domain=[px(94.3), px(507.3)], range=[0, 9000], anchor="y3", tickvals=TICK_C_X),
    yaxis3=dict(AX, domain=[py(683.3), py(506)], range=[0, 1.2], anchor="x3",
                tickvals=TICK_C_Y, ticktext=TICK_C_YT, ticklen=6),
    xaxis4=dict(HIDDEN, domain=[px(553), px(833)], range=[0, 280], anchor="y4"),
    yaxis4=dict(HIDDEN, domain=[py(195), py(60)], range=[-206.5, 72.3], anchor="x4"),
    xaxis5=dict(HIDDEN, domain=[px(560), px(833)], range=[0, 273], anchor="y5"),
    yaxis5=dict(HIDDEN, domain=[py(440), py(300)], range=[-211.9, 52.3], anchor="x5"),
    xaxis6=dict(HIDDEN, domain=[px(560), px(833)], range=[0, 273], anchor="y6"),
    yaxis6=dict(HIDDEN, domain=[py(680), py(555)], range=[-142.8, 77.6], anchor="x6"),
)
fig.update_layout(**layout)

STRIP = "#b8c8e2"
shapes = []
for (y0, y1) in [(0, 197), (249.3, 444), (498.3, 702.7)]:
    shapes.append(dict(type="rect", xref="paper", yref="paper", x0=px(6), x1=px(34), y0=py(y1), y1=py(y0),
                       fillcolor=STRIP, line=dict(width=0), layer="below"))
fig.update_layout(shapes=shapes)

ann = []


def text(x, y, s, size=13.5, xanchor="center", bold=False, angle=0):
    ann.append(dict(x=px(x), y=py(y), xref="paper", yref="paper", text=("<b>%s</b>" % s) if bold else s,
                    showarrow=False, xanchor=xanchor, yanchor="middle", textangle=angle,
                    font=dict(size=size, color="black", family=FONT)))


# panel letters and rotated "I_Kr (pA/pF)" labels (subscript drawn as its own smaller text)
for letter, yl, yb in [("A", 21, 170.6), ("B", 269.5, 419.6), ("C", 517.5, 656.6)]:
    text(20.7, yl, letter, size=26, bold=True)
    text(20, yb - 2.9, "I", size=21, bold=True, angle=-90)
    text(24, yb - 13.9, "Kr", size=14.5, bold=True, angle=-90)
    text(20, yb - 64.5, "(pA/pF)", size=21, bold=True, angle=-90)

text(299, 720, "time (ms)", size=15.5)

# protocol A texts
text(670, 39.3, "voltage protocol <i>A</i>", size=20)
text(585, 119, "%d mV" % PROTO_A_HOLD_MV)
text(760, 70, "+%d mV" % max(PROTO_A_STEPS_MV))
text(759, 128.3, "%d mV" % min(PROTO_A_STEPS_MV))
text(781.7, 151.7, "%d mV" % PROTO_A_TAIL_MV)
for xx, s in zip([585, 680, 780.7], PROTO_A_DUR):
    text(xx, 176, s)

# protocol B texts
text(670, 270, "voltage protocol <i>B</i>", size=20)
text(558, 360.7, "%d mV" % PROTO_B_HOLD_MV)
text(660, 311, "+%d mV" % PROTO_B_PRE_MV)
text(748.3, 327.3, "%d mV" % max(PROTO_B_STEPS_MV))
text(756.7, 380.7, "-110 mV")
text(786.7, 370.5, "%d mV" % PROTO_B_HOLD_MV, xanchor="left")
for xx, s in zip([563.3, 608.3, 681.7, 755], PROTO_B_DUR):
    text(xx, 425, s)

# protocol C texts
text(670, 536.7, "voltage protocol <i>C</i>", size=20)
text(722, 562.7, "+%d mV" % max(PROTO_C_STEPS_MV))
text(566.5, 626.3, "%d mV" % PROTO_C_HOLD_MV)
text(744, 614, "%d mV" % PROTO_C_TAIL_MV)
for xx, s in zip([569.4, 642.2, 748.5], PROTO_C_DUR):
    text(xx, 665, s)

fig.update_layout(annotations=ann)
fig.write_html("out.html", config=dict(responsive=False, displayModeBar=False))
